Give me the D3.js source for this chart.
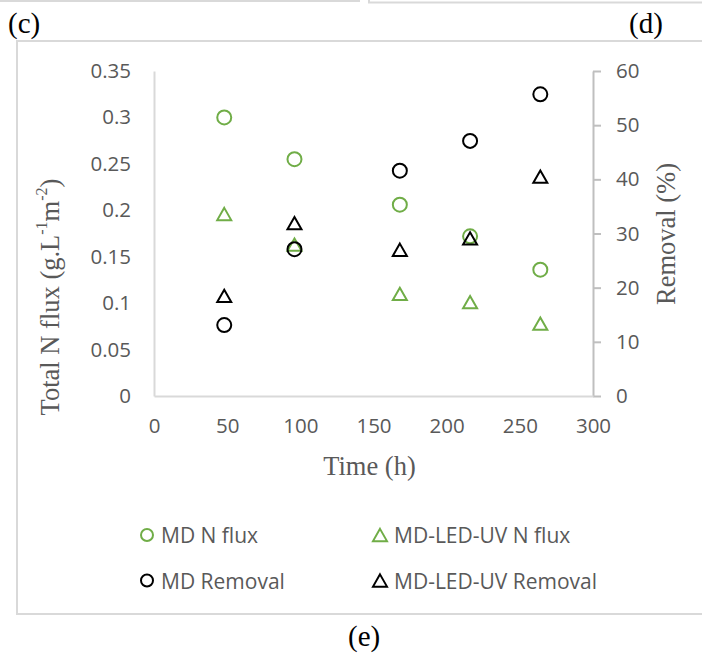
<!DOCTYPE html>
<html>
<head>
<meta charset="utf-8">
<script src="https://cdn.jsdelivr.net/npm/d3@7"></script>
<style>
  body { margin: 0; background: #fff; }
  svg { display: block; }
</style>
</head>
<body>
<svg id="chart" width="702" height="655"></svg>
<script>
// Sampling times (h)
const hours = [48, 96, 168, 216, 264];
// Total N flux (g.L-1m-2), left axis
const mdFlux = [0.300, 0.255, 0.206, 0.172, 0.136];
const ledUvFlux = [0.196, 0.163, 0.110, 0.101, 0.078];
// Removal (%), right axis
const mdRemoval = [13.1, 27.1, 41.6, 47.1, 55.7];
const ledUvRemoval = [18.5, 31.9, 27.0, 29.1, 40.5];

const timeTicks = [0, 50, 100, 150, 200, 250, 300];
const fluxTicks = [0, 0.05, 0.1, 0.15, 0.2, 0.25, 0.3, 0.35];
const removalTicks = [0, 10, 20, 30, 40, 50, 60];

const seriesNames = ["MD N flux", "MD-LED-UV N flux", "MD Removal", "MD-LED-UV Removal"];

const GREEN = "#70AD47";
const BLACK = "#000000";
const TEXT = "#595959";
const SANS = "'Open Sans', 'Noto Sans', sans-serif";
const SERIF = "'Liberation Serif', 'Times New Roman', serif";

const svg = d3.select("#chart");

// Neighbouring panel frames and the frame of this panel
const frame = svg.append("g").attr("fill", "none").attr("stroke", "#d9d9d9").attr("stroke-width", 2);
frame.append("path").attr("d", "M0,1 H359 V-2");
frame.append("path").attr("d", "M369,-2 V2.5 H704");
frame.append("rect").attr("x", 17).attr("y", 41).attr("width", 700).attr("height", 573);

// Panel letters
const letters = svg.append("g").attr("font-family", SERIF).attr("font-size", 29).attr("fill", "#000");
letters.append("text").attr("x", 8).attr("y", 33).text("(c)");
letters.append("text").attr("x", 629).attr("y", 33).text("(d)");
letters.append("text").attr("x", 348).attr("y", 646).text("(e)");

// Plot area and scales
const plot = { left: 154, right: 593, top: 71, bottom: 396 };
const x = d3.scaleLinear().domain([0, 300]).range([plot.left, plot.right]);
const yFlux = d3.scaleLinear().domain([0, 0.35]).range([plot.bottom, plot.top]);
const yRemoval = d3.scaleLinear().domain([0, 60]).range([plot.bottom, plot.top]);

function styleAxis(g, lineColor) {
  g.attr("font-family", SANS).attr("font-size", 20.5);
  g.select(".domain").attr("stroke", lineColor).attr("stroke-width", 2);
  g.selectAll(".tick line").attr("stroke", lineColor).attr("stroke-width", 2);
  g.selectAll(".tick text").attr("fill", TEXT);
}

// Left axis: flux
svg.append("g")
  .attr("transform", `translate(${plot.left},0)`)
  .call(d3.axisLeft(yFlux).tickValues(fluxTicks).tickSize(0).tickSizeOuter(0).tickPadding(23)
    .tickFormat(d => String(+d.toFixed(2))))
  .call(g => styleAxis(g, "#d9d9d9"));

// Right axis: removal
svg.append("g")
  .attr("transform", `translate(${plot.right},0)`)
  .call(d3.axisRight(yRemoval).tickValues(removalTicks).tickSize(8).tickSizeOuter(0).tickPadding(15))
  .call(g => styleAxis(g, "#bfbfbf"));

// Bottom axis: time
svg.append("g")
  .attr("transform", `translate(0,${plot.bottom})`)
  .call(d3.axisBottom(x).tickValues(timeTicks).tickSize(0).tickSizeOuter(0))
  .call(g => styleAxis(g, "#d9d9d9"))
  .call(g => g.selectAll(".tick text").attr("y", 30).attr("dy", "0.35em"));

// Axis titles
svg.append("text")
  .attr("x", (plot.left + plot.right) / 2 - 4).attr("y", 466)
  .attr("text-anchor", "middle").attr("dominant-baseline", "central")
  .attr("font-family", SERIF).attr("font-size", 26.5).attr("fill", TEXT)
  .text("Time (h)");

const fluxTitle = svg.append("text")
  .attr("transform", "translate(50,297) rotate(-90)")
  .attr("text-anchor", "middle").attr("dominant-baseline", "central")
  .attr("font-family", SERIF).attr("font-size", 26.5).attr("fill", TEXT);
fluxTitle.append("tspan").text("Total N flux (g.L");
fluxTitle.append("tspan").attr("font-size", 16).attr("dy", -9).text("-1");
fluxTitle.append("tspan").attr("dy", 9).text("m");
fluxTitle.append("tspan").attr("font-size", 16).attr("dy", -9).text("-2");
fluxTitle.append("tspan").attr("dy", 9).text(")");

svg.append("text")
  .attr("transform", "translate(666,234) rotate(-90)")
  .attr("text-anchor", "middle").attr("dominant-baseline", "central")
  .attr("font-family", SERIF).attr("font-size", 26.5).attr("fill", TEXT)
  .text("Removal (%)");

// Marker shapes, drawn around a centre point
const shapes = {
  circle: s => `M${s},0A${s},${s} 0 1,1 ${-s},0A${s},${s} 0 1,1 ${s},0Z`,
  triangle: s => `M0,${-s * 0.875}L${s},${s * 0.875}L${-s},${s * 0.875}Z`
};

const series = [
  { name: seriesNames[0], values: mdFlux, y: yFlux, shape: "circle", color: GREEN },
  { name: seriesNames[1], values: ledUvFlux, y: yFlux, shape: "triangle", color: GREEN },
  { name: seriesNames[2], values: mdRemoval, y: yRemoval, shape: "circle", color: BLACK },
  { name: seriesNames[3], values: ledUvRemoval, y: yRemoval, shape: "triangle", color: BLACK }
];

const marks = svg.append("g");
series.forEach(s => {
  marks.append("g").selectAll("path")
    .data(s.values.map((v, i) => ({ t: hours[i], v })))
    .join("path")
    .attr("transform", d => `translate(${x(d.t)},${s.y(d.v)})`)
    .attr("d", shapes[s.shape](7))
    .attr("fill", "none")
    .attr("stroke", s.color)
    .attr("stroke-width", 2);
});

// Legend, two columns by two rows
const legendCols = [147, 380];
const legendRows = [535, 580.5];
const legend = svg.append("g").attr("font-family", SANS).attr("font-size", 21).attr("fill", TEXT);
series.forEach((s, i) => {
  const cx = legendCols[i % 2];
  const cy = legendRows[Math.floor(i / 2)];
  legend.append("path")
    .attr("transform", `translate(${cx},${cy})`)
    .attr("d", shapes[s.shape](s.shape === "circle" ? 6 : 7))
    .attr("fill", "none").attr("stroke", s.color).attr("stroke-width", 2);
  legend.append("text")
    .attr("x", cx + 14).attr("y", cy)
    .attr("dominant-baseline", "central")
    .text(s.name);
});
</script>
</body>
</html>
